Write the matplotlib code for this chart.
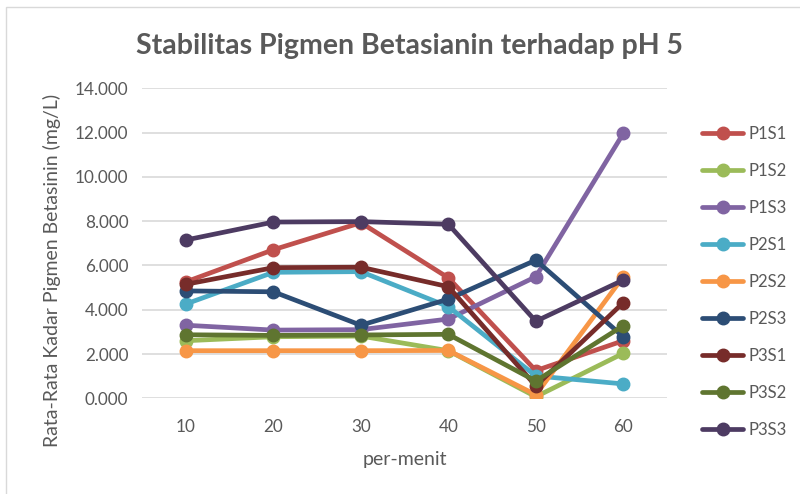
import matplotlib
matplotlib.use("Agg")
import matplotlib.pyplot as plt
from matplotlib.patches import Rectangle

minutes = ["10", "20", "30", "40", "50", "60"]
series_names = ["P1S1", "P1S2", "P1S3", "P2S1", "P2S2", "P2S3", "P3S1", "P3S2", "P3S3"]
P1S1 = [5.26, 6.71, 7.93, 5.44, 1.25, 2.60]
P1S2 = [2.60, 2.78, 2.81, 2.15, 0.07, 2.03]
P1S3 = [3.30, 3.08, 3.10, 3.58, 5.49, 11.96]
P2S1 = [4.26, 5.69, 5.72, 4.14, 1.01, 0.65]
P2S2 = [2.15, 2.15, 2.15, 2.16, 0.16, 5.49]
P2S3 = [4.85, 4.81, 3.30, 4.48, 6.24, 2.78]
P3S1 = [5.15, 5.90, 5.92, 5.04, 0.56, 4.32]
P3S2 = [2.87, 2.84, 2.86, 2.89, 0.78, 3.28]
P3S3 = [7.15, 7.96, 7.98, 7.86, 3.48, 5.34]
values = [P1S1, P1S2, P1S3, P2S1, P2S2, P2S3, P3S1, P3S2, P3S3]
colors = ["#C0504D", "#9BBB59", "#8064A2", "#4BACC6", "#F79646",
          "#2C4D75", "#772C2A", "#5F7530", "#4D3B62"]
yticks = [0, 2, 4, 6, 8, 10, 12, 14]

plt.rcParams['font.family'] = ['Lato', 'DejaVu Sans']
fig = plt.figure(figsize=(8, 4.94), dpi=100)
W, H = 800, 494
ax = fig.add_axes([142.25 / W, (H - 398.3) / H, (667 - 142.25) / W, (398.3 - 88.3) / H])

x = list(range(len(minutes)))
for name, vals, c in zip(series_names, values, colors):
    ax.plot(x, vals, color=c, lw=3.4, marker='o', markersize=9, label=name,
            solid_capstyle='round', solid_joinstyle='round')

ax.set_xlim(-0.5, len(minutes) - 0.5)
ax.set_ylim(0, 14)
ax.set_yticks(yticks)
ax.set_yticklabels([f"{v:.3f}" for v in yticks])
ax.set_xticks(x)
ax.set_xticklabels(minutes)
ax.grid(axis='y', color='#D9D9D9', lw=1.2)
ax.set_axisbelow(True)
for s in ['top', 'right', 'left', 'bottom']:
    ax.spines[s].set_visible(False)
ax.tick_params(length=0, labelsize=12.3, colors='#595959', pad=10)
ax.tick_params(axis='x', pad=15)

fig.text(409 / W, 1 - 46 / H, "Stabilitas Pigmen Betasianin terhadap pH 5",
         ha='center', va='center', fontsize=20.5, fontweight='bold', color='#595959')
fig.text(405 / W, 1 - 459 / H, "per-menit", ha='center', va='center',
         fontsize=14, color='#595959')
fig.text(52 / W, 1 - 270 / H, "Rata-Rata Kadar Pigmen Betasinin (mg/L)", ha='center',
         va='center', rotation=90, fontsize=14, color='#595959')

leg = fig.legend(loc='upper left', bbox_to_anchor=(687 / W, 1 - 111 / H), frameon=False,
                 fontsize=12, labelspacing=1.26, handlelength=2.46, handletextpad=0.3,
                 labelcolor='#595959')

fig.patches.append(Rectangle((6 / W, -0.1), 1.2, (H - 7) / H + 0.1, transform=fig.transFigure,
                             fill=False, edgecolor='#D9D9D9', lw=1))

fig.savefig("out.png", dpi=100, facecolor='white')
